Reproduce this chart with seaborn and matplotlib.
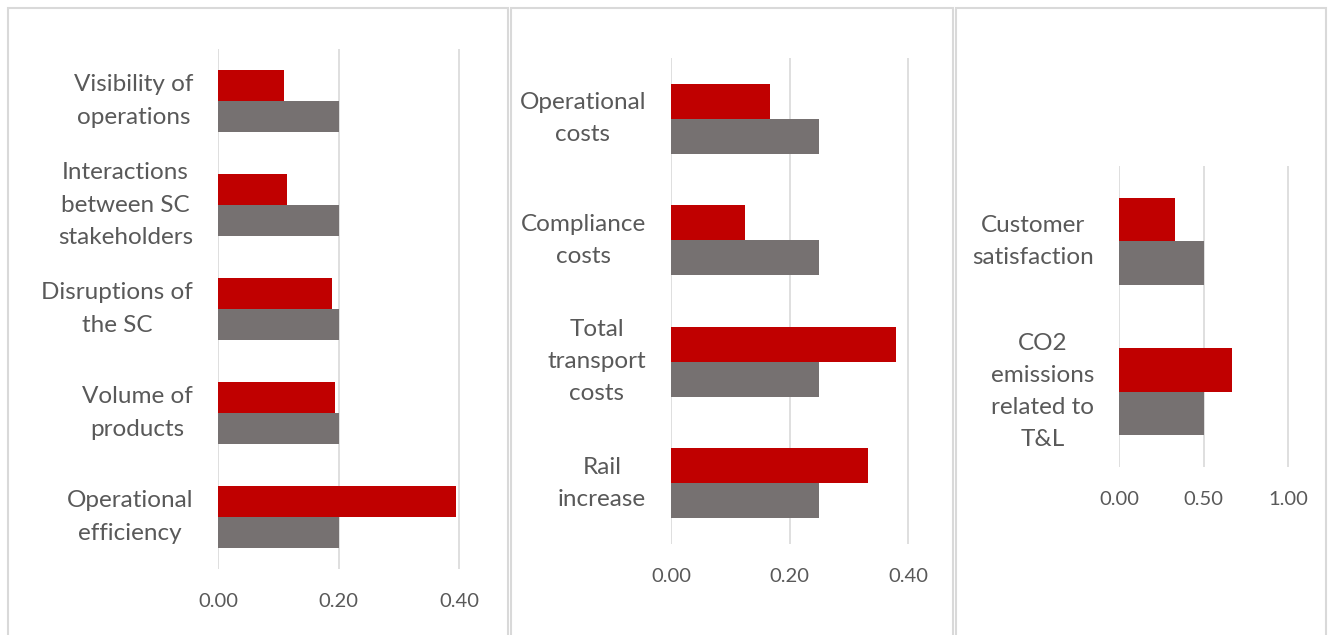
import matplotlib
matplotlib.use("Agg")
import matplotlib.pyplot as plt
from matplotlib.patches import Rectangle
import seaborn as sns
import pandas as pd

# ---------------- data ----------------
cats1 = ["Visibility of\noperations", "Interactions\nbetween SC\nstakeholders",
         "Disruptions of\nthe SC", "Volume of\nproducts", "Operational\nefficiency"]
red1 = [0.11, 0.115, 0.19, 0.195, 0.395]
grey1 = [0.20, 0.20, 0.20, 0.20, 0.20]
ticks1 = [0.0, 0.2, 0.4]

cats2 = ["Operational\ncosts", "Compliance\ncosts", "Total\ntransport\ncosts", "Rail\nincrease"]
red2 = [0.167, 0.125, 0.38, 0.333]
grey2 = [0.25, 0.25, 0.25, 0.25]
ticks2 = [0.0, 0.2, 0.4]

cats3 = ["Customer\nsatisfaction", "CO2\nemissions\nrelated to\nT&L"]
red3 = [0.333, 0.667]
grey3 = [0.5, 0.5]
ticks3 = [0.0, 0.5, 1.0]

series = ["Series 1", "Series 2"]
colors = ["#C00000", "#767171"]

W, H = 1333, 635
sns.set_theme(style="white")
plt.rcParams["font.family"] = ["Lato", "DejaVu Sans"]
fig = plt.figure(figsize=(W / 100, H / 100), dpi=100)

# panel frames (pixels: left, right)
for l, r in [(8, 508), (511, 953), (956, 1326)]:
    fig.patches.append(Rectangle((l / W, -0.05), (r - l) / W, (H - 8) / H + 0.05,
                                 transform=fig.transFigure, fill=False,
                                 edgecolor="#D9D9D9", lw=1.5))

# axes specs: x0 px, px per unit, xmax, top px, bottom px, bar group width
specs = [
    (cats1, red1, grey1, ticks1, 218, 602.5, 0.45, 49, 569, 0.6),
    (cats2, red2, grey2, ticks2, 671, 592.5, 0.45, 58, 544, 0.58),
    (cats3, red3, grey3, ticks3, 1119, 169.0, 1.1, 166, 467, 0.58),
]

for cats, red, grey, ticks, x0, ppu, xmax, top, bot, width in specs:
    ax = fig.add_axes([x0 / W, 1 - bot / H, xmax * ppu / W, (bot - top) / H])
    df = pd.DataFrame({
        "category": cats * 2,
        "series": [series[0]] * len(cats) + [series[1]] * len(cats),
        "value": red + grey,
    })
    sns.barplot(data=df, y="category", x="value", hue="series", hue_order=series,
                palette=colors, orient="h", width=width, gap=0, ax=ax,
                legend=False, linewidth=0, saturation=1)
    ax.set_xlim(0, xmax)
    ax.set_xticks(ticks)
    ax.set_xticklabels([f"{t:.2f}" for t in ticks])
    ax.set_ylim(len(cats) - 0.5, -0.5)
    ax.grid(axis="x", color="#D9D9D9", lw=1.2)
    ax.set_axisbelow(True)
    for s in ax.spines.values():
        s.set_visible(False)
    ax.set_xlabel("")
    ax.set_ylabel("")
    ax.tick_params(axis="x", length=0, pad=17, labelsize=14.5, labelcolor="#595959")
    ax.tick_params(axis="y", length=0, pad=18, labelsize=17.5, labelcolor="#595959")
    for lab in ax.get_yticklabels():
        lab.set_multialignment("center")
        lab.set_linespacing(1.65)
        lab.set_verticalalignment("center")

fig.savefig("out.png", dpi=100, facecolor="white")
